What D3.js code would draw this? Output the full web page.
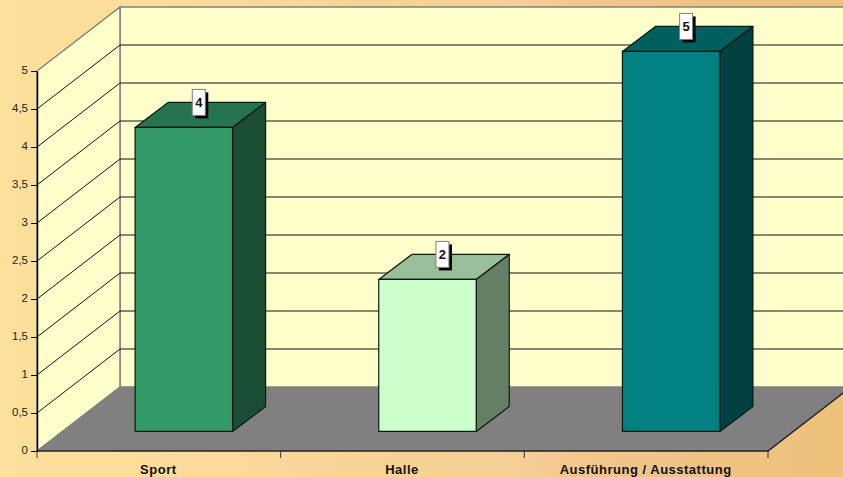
<!DOCTYPE html>
<html>
<head>
<meta charset="utf-8">
<script src="https://cdn.jsdelivr.net/npm/d3@7"></script>
<style>
html, body { margin: 0; padding: 0; background: #f5d28f; }
svg { display: block; }
text { font-family: "Liberation Sans", Arial, sans-serif; fill: #000; }
</style>
</head>
<body>
<div id="chart"></div>
<script>
(function(){
    const categories = ['Sport', 'Halle', 'Ausführung / Ausstattung'];
    const values = [4, 2, 5];
    const yTicks = [0, 0.5, 1, 1.5, 2, 2.5, 3, 3.5, 4, 4.5, 5];
    const faceColors = ['#339966', '#ccffcc', '#008080'];
    const topColors = ['#267350', '#99bf99', '#006060'];
    const sideColors = ['#1a4d33', '#668066', '#004040'];

    var WIDTH = 843, HEIGHT = 477;

    // 3d box of the plot
    var DX = 83, DY = -64,         // depth of the whole plot
        BAR_DX = 33, BAR_DY = -25, // depth of one bar
        BAR_SHIFT = 25, BAR_LIFT = 20;

    var svg = d3.select('#chart').append('svg')
        .attr('width', WIDTH)
        .attr('height', HEIGHT);

    var defs = svg.append('defs');
    var bg = defs.append('linearGradient').attr('id', 'bg')
        .attr('x1', 0).attr('x2', 1).attr('y1', 0).attr('y2', 0);
    [[0, '#fde09b'], [0.2, '#fcdc9a'], [0.36, '#f9d69a'], [0.48, '#f6d292'], [0.6, '#f6cf98'], [0.72, '#f1c58b'], [0.84, '#efc283'], [1, '#edc27c']]
        .forEach(function(s){ bg.append('stop').attr('offset', s[0]).attr('stop-color', s[1]); });

    var x = d3.scaleBand().domain(categories).range([37, 768]);
    var y = d3.scaleLinear().domain([0, 5]).range([451, 71]);

    svg.append('rect').attr('width', WIDTH).attr('height', HEIGHT).attr('fill', 'url(#bg)');

    var line = d3.line();
    var xL = x.range()[0], xR = x.range()[1];

    // back wall
    svg.append('path')
        .attr('d', line([[xL + DX, y(0) + DY], [xL + DX, y(5) + DY], [xR + DX, y(5) + DY], [xR + DX, y(0) + DY]]) + 'Z')
        .attr('fill', '#ffffcc')
        .attr('stroke', '#808080').attr('stroke-width', 1.5);

    // side wall
    svg.append('path')
        .attr('d', line([[xL, y(0)], [xL, y(5)], [xL + DX, y(5) + DY], [xL + DX, y(0) + DY]]) + 'Z')
        .attr('fill', '#ffffcc')
        .attr('stroke', '#808080').attr('stroke-width', 1.5);

    // gridlines
    var grid = svg.append('g').attr('class', 'grid');
    grid.selectAll('path')
        .data(yTicks.filter(function(d){ return d > 0 && d < 5; }))
        .enter().append('path')
        .attr('d', function(d){
            return line([[xL, y(d)], [xL + DX, y(d) + DY], [xR + DX, y(d) + DY]]);
        })
        .attr('fill', 'none')
        .attr('stroke', '#111')
        .attr('stroke-width', 1);

    // floor
    svg.append('path')
        .attr('d', line([[xL, y(0)], [xL + DX, y(0) + DY], [xR + DX, y(0) + DY], [xR, y(0)]]) + 'Z')
        .attr('fill', '#808080');
    svg.append('path')
        .attr('d', line([[xR + DX, y(0) + DY], [xR, y(0)], [xL, y(0)]]))
        .attr('fill', 'none')
        .attr('stroke', '#222').attr('stroke-width', 1.5);
    svg.append('path')
        .attr('d', line([[xL, y(0)], [xL + DX, y(0) + DY]]))
        .attr('fill', 'none')
        .attr('stroke', '#808080').attr('stroke-width', 1);

    // y axis
    var yAxis = svg.append('g')
        .attr('transform', 'translate(' + xL + ',0)')
        .call(d3.axisLeft(y).tickValues(yTicks).tickSize(6).tickPadding(3)
            .tickSizeOuter(0)
            .tickFormat(function(d){ return String(d).replace('.', ','); }));
    yAxis.select('.domain').attr('stroke-width', 1.5);
    yAxis.selectAll('text').style('font-size', '11.5px').style('fill', '#222').attr('dy', '0.25em');

    // x axis, ticks sit on the category boundaries
    var xAxisG = svg.append('g').attr('class', 'x-axis');
    xAxisG.selectAll('line')
        .data(categories.concat(['end']))
        .enter().append('line')
        .attr('x1', function(d, i){ return xL + i * x.step(); })
        .attr('x2', function(d, i){ return xL + i * x.step(); })
        .attr('y1', y(0)).attr('y2', y(0) + 7)
        .attr('stroke', '#333');
    xAxisG.selectAll('text')
        .data(categories)
        .enter().append('text')
        .attr('x', function(d){ return x(d) + x.bandwidth() / 2 - 0.5; })
        .attr('y', 474)
        .attr('text-anchor', 'middle')
        .style('font-size', '13px')
        .style('font-weight', 'bold')
        .style('letter-spacing', '0.5px')
        .style('fill', '#111')
        .text(function(d){ return d; });

    // bars
    var BAR_W = 97.5;
    var bars = svg.append('g').selectAll('g')
        .data(categories)
        .enter().append('g');

    bars.each(function(d, i){
        var g = d3.select(this);
        var x0 = x(d) + x.bandwidth() / 2 + BAR_SHIFT - BAR_W / 2,
            x1 = x0 + BAR_W,
            yT = y(values[i]) - BAR_LIFT + 0.4,
            yB = y(0) - BAR_LIFT + 0.4;

        g.append('path')
            .attr('d', line([[x0, yT], [x0 + BAR_DX, yT + BAR_DY], [x1 + BAR_DX, yT + BAR_DY], [x1, yT]]) + 'Z')
            .attr('fill', topColors[i]);
        g.append('path')
            .attr('d', line([[x1, yT], [x1 + BAR_DX, yT + BAR_DY], [x1 + BAR_DX, yB + BAR_DY], [x1, yB]]) + 'Z')
            .attr('fill', sideColors[i]);
        g.append('rect')
            .attr('x', x0).attr('y', yT)
            .attr('width', BAR_W).attr('height', yB - yT)
            .attr('fill', faceColors[i]);
        g.selectAll('path, rect')
            .attr('stroke', '#0a1a10').attr('stroke-width', 1.2).attr('stroke-linejoin', 'round');

        // value label with its drop shadow
        var cx = x0 + 63.7, cy = yT - 25;
        g.append('rect')
            .attr('x', cx - 3.5).attr('y', cy - 10)
            .attr('width', 13).attr('height', 26)
            .attr('fill', '#000');
        g.append('rect')
            .attr('x', cx - 6.5).attr('y', cy - 13)
            .attr('width', 13).attr('height', 26)
            .attr('fill', '#fff')
            .attr('stroke', '#808080').attr('stroke-width', 1);
        g.append('text')
            .attr('x', cx).attr('y', cy + 4.5)
            .attr('text-anchor', 'middle')
            .style('font-size', '13px')
            .style('font-weight', 'bold')
            .style('fill', '#111')
            .text(values[i]);
    });
})();
</script>
</body>
</html>
